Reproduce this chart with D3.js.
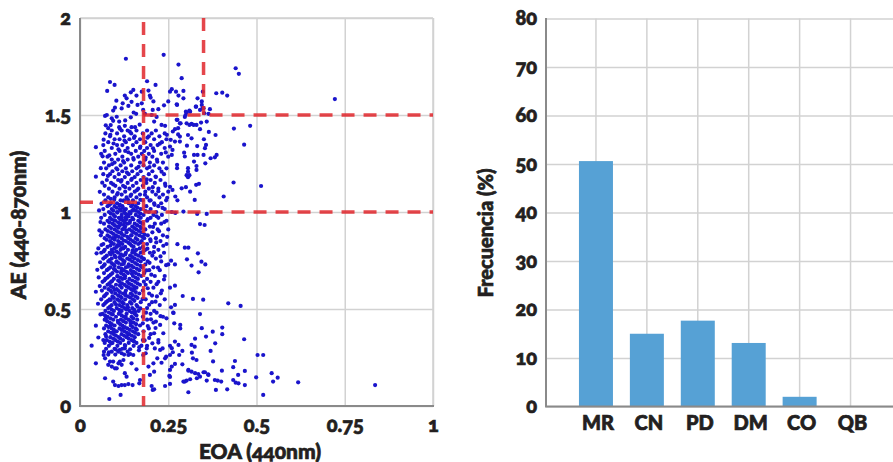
<!DOCTYPE html>
<html lang="es">
<head>
<meta charset="utf-8">
<script src="https://cdn.jsdelivr.net/npm/d3@7"></script>
<style>
  body { margin: 0; background: #fff; }
  svg { display: block; }
  text { font-family: Lato, "Open Sans", sans-serif; font-weight: 900; fill: #231f20; stroke: #231f20; stroke-width: 0.7px; font-variant-numeric: oldstyle-nums; font-feature-settings: "onum"; }
</style>
</head>
<body>
<svg width="893" height="462"></svg>
<script>
// left panel: AE vs EOA
const eoaTicks = [0, 0.25, 0.5, 0.75, 1];
const aeTicks = [0, 0.5, 1, 1.5, 2];

// sparse points, read one by one [EOA, AE]
const sparsePoints = [
  [.13,1.79],[.237,1.81],[.279,1.76],[.288,1.69],[.085,1.67],[.098,1.655],[.077,1.624],[.19,1.674],[.214,1.655],[.151,1.629],[.144,1.617],[.127,1.6],[.132,1.586],[.121,1.56],[.137,1.547],[.16,1.6],[.175,1.62],[.194,1.626],[.198,1.6],[.2,1.59],[.208,1.57],[.175,1.56],[.26,1.633],[.255,1.62],[.272,1.62],[.279,1.6],[.293,1.624],[.293,1.586],[.274,1.555],[.25,1.57],[.238,1.55],[.222,1.53],[.206,1.526],[.099,1.538],[.094,1.523],[.076,1.5],[.071,1.495],[.09,1.483],[.094,1.47],[.111,1.466],[.144,1.488],[.159,1.506],[.179,1.526],[.184,1.506],[.203,1.5],[.217,1.49],[.21,1.466],[.231,1.449],[.241,1.444],[.156,1.437],[.146,1.437],[.127,1.444],[.111,1.437],[.08,1.432],[.274,1.475],[.283,1.457],[.302,1.512],[.312,1.517],[.297,1.49],[.302,1.457],[.316,1.454],[.329,1.543],[.333,1.586],[.345,1.57],[.34,1.526],[.347,1.535],[.364,1.506],[.359,1.466],[.33,1.449],
  [.441,1.741],[.45,1.712],[.386,1.612],[.403,1.615],[.417,1.6],[.368,1.53],[.436,1.43],[.482,1.444],[.465,1.347],[.435,1.152],[.513,1.134],[.407,1.08],[.325,1.062],[.384,1.397],[.365,1.413],[.34,1.427],[.343,1.461],[.351,1.375],[.357,1.346],[.354,1.329],[.332,1.34],[.387,1.294],[.382,1.282],[.37,1.277],[.35,1.294],[.355,1.251],[.333,1.294],[.323,1.294],[.323,1.26],[.33,1.237],[.33,1.217],[.306,1.226],[.306,1.208],[.302,1.19],[.306,1.179],[.31,1.19],[.329,1.14],[.337,1.145],[.3,1.128],[.288,1.122],[.312,1.105],[.275,1.226],[.275,1.243],[.295,1.306],[.297,1.286],[.303,1.342],[.316,1.38],[.306,1.397],[.283,1.389],[.278,1.4],[.283,1.363],[.269,1.427],[.278,1.432],[.263,1.415],[.257,1.372],[.269,1.363],[.255,1.337],[.262,1.32],[.26,1.294],[.255,1.13],[.262,1.114],[.27,1.08],[.276,1.06],[.293,1.002],[.27,.995],[.26,1],[.332,.99],[.359,.99],[.299,1.5],[.3,1.517],[.31,1.523],[.276,1.475],[.285,1.457],[.31,1.449],[.322,1.449],[.275,1.552],[.328,1.543],[.348,1.62],[.345,1.552],[.35,1.535],[.352,1.509],
  [.34,.938],[.353,.933],[.276,.834],[.297,.816],[.307,.816],[.334,.787],[.303,.756],[.344,.744],[.355,.73],[.316,.724],[.336,.689],[.269,.73],[.258,.749],[.269,.62],[.255,.61],[.291,.567],[.32,.552],[.349,.548],[.42,.529],[.455,.516],[.269,.521],[.258,.509],[.265,.48],[.34,.474],[.267,.426],[.284,.418],[.284,.4],[.345,.401],[.376,.383],[.403,.404],[.403,.37],[.357,.358],[.326,.347],[.465,.344],[.383,.323],[.269,.332],[.279,.315],[.255,.31],[.26,.298],[.316,.315],[.325,.306],[.37,.284],[.317,.275],[.29,.284],[.281,.263],[.263,.277],[.255,.263],[.32,.246],[.33,.237],[.377,.23],[.439,.232],[.434,.2],[.467,.181],[.402,.182],[.29,.215],[.269,.217],[.26,.203],[.255,.186],[.448,.16],[.307,.186],[.316,.177],[.326,.169],[.335,.165],[.35,.174],[.363,.163],[.331,.143],[.312,.138],[.297,.126],[.359,.131],[.382,.134],[.39,.131],[.4,.126],[.434,.134],[.441,.12],[.449,.117],[.467,.108],[.385,.083],[.417,.086],[.307,.071],[.519,.057],[.499,.148],[.543,.169],[.56,.146],[.547,.126],[.618,.122],[.503,.263],[.519,.263],[.255,.15],[.255,.114],[.836,.108],[.722,1.582],
  [.033,.311],[.045,.414],[.045,.22],[.071,.143],[.083,.036],[.115,.057],[.066,.34],[.071,.246],[.094,.126],[.099,.108],[.109,.103],[.118,.108],[.127,.108],[.137,.113],[.149,.108],[.127,.169],[.132,.151],[.16,.189],[.146,.22],[.151,.263],[.137,.263],[.123,.237],[.118,.212],[.109,.22],[.099,.194],[.09,.203],[.08,.212],[.085,.229],[.094,.229],[.104,.194],[.113,.229],[.118,.272],[.113,.289],[.127,.297],[.142,.292],[.17,.134],[.168,.117],[.179,.263],[.189,.297],[.186,.272],[.194,.203],[.208,.22],[.21,.177],[.198,.16],[.203,.103],[.21,.086],[.206,.083],[.241,.103],[.253,.155],[.231,.223],[.219,.246],[.241,.246],[.244,.254],[.212,.297],[.227,.289],[.234,.297],[.222,.34],[.222,.327],[.236,.375],[.21,.375],[.227,.418],[.215,.435],[.245,.452],[.264,.481],[.217,.481],[.307,.182],[.34,.151],[.302,.131],[.293,.126],[.354,.174],[.364,.16],
  [.045,1.334],[.045,1.182],[.045,.589],[.047,.787],[.059,.88],[.061,.83],
  // edges and gaps of the cloud
  [.052,.353],[.058,.472],[.051,.527],[.056,.618],[.053,.663],[.049,.702],[.057,.741],[.052,.812],[.055,.905],[.058,.948],[.054,1.008],[.061,1.043],[.056,1.104],[.063,1.151],[.059,1.226],[.064,1.287],[.067,1.373],[.073,1.447],
  [.167,.287],[.174,.311],[.183,.338],[.196,.351],[.205,.323],[.214,.402],[.192,.412],[.178,.426],[.201,.447],[.228,.463],[.187,.481],[.171,.503],[.196,.522],[.214,.538],[.177,.551],[.204,.569],[.229,.581],[.192,.607],[.217,.628],[.181,.641],[.238,.652],[.202,.677],[.188,.699],[.221,.713],[.244,.726],[.197,.738],[.181,.757],[.228,.771],[.209,.793],[.191,.811],[.236,.826],[.216,.843],[.199,.859],[.247,.872],[.183,.884],[.224,.901],[.207,.923],[.239,.948],[.192,.963],[.217,.978],[.186,1.004],[.234,1.021],[.211,1.037],[.197,1.059],[.247,1.073],[.184,1.089],[.222,1.107],[.206,1.128],[.241,1.146],[.189,1.168],[.214,1.183],[.231,1.208],[.197,1.232],[.219,1.259],[.186,1.281],[.243,1.307],[.207,1.328],[.226,1.352],[.191,1.383],[.246,1.398],
  [.112,1.034],[.127,1.011],[.106,.997],[.133,.983],[.118,.971],[.097,.957],[.141,.944],[.124,.934],[.109,.919],[.131,.906],[.116,.893],[.146,.879],[.099,.868],[.124,.853],[.137,.841],[.107,.829],[.119,.814],[.149,.802],[.093,.793],[.128,.781],[.112,.768],[.141,.754],[.103,.742],[.124,.733],[.136,.718],[.096,.706],[.117,.696],[.147,.682],[.106,.668],[.127,.659],[.091,.644],[.139,.631],[.113,.621],[.154,.606],[.098,.598],[.128,.583],[.108,.571],[.142,.559],[.087,.547],[.121,.533],[.102,.523],[.136,.508],[.111,.496],[.156,.486],[.093,.472],[.129,.461],[.073,.451],[.107,.439],[.143,.428],[.086,.413],[.123,.403],[.161,.393],[.096,.381],[.137,.368],[.074,.358],[.114,.347],[.152,.336],[.089,.323],[.127,.314],[.168,.303],[.101,.292],[.082,.277],[.142,.268],[.067,.263],
  [.122,1.058],[.087,1.068],[.143,1.083],[.107,1.098],[.161,1.112],[.128,1.128],[.094,1.142],[.116,1.157],[.147,1.171],[.079,1.186],[.133,1.203],[.106,1.219],[.166,1.233],[.091,1.247],[.122,1.263],[.151,1.278],[.083,1.292],[.137,1.308],[.109,1.323],[.171,1.337],[.095,1.353],[.126,1.368],[.153,1.382],[.086,1.398],[.141,1.414],[.113,1.429],[.169,1.45],[.128,1.472],[.104,1.491],[.152,1.513],[.118,1.534],[.163,1.552],[.103,1.574],[.146,1.568],[.087,1.448]
];

// the dense cloud, read row by row: [AE, EOA values on that row]
const denseRows = [
  [1.42,[.09,.118,.135,.16,.19,.215]],[1.405,[.072,.105,.145,.178,.203,.24]],[1.39,[.085,.125,.155,.195,.225]],[1.375,[.098,.112,.14,.17,.21,.245]],[1.36,[.08,.13,.16,.185,.232]],[1.345,[.066,.105,.12,.15,.2,.22]],[1.33,[.09,.135,.17,.19,.24]],[1.315,[.07,.112,.128,.158,.182,.21]],[1.3,[.06,.1,.145,.175,.195,.23]],
  [1.285,[.078,.12,.165,.205,.25]],[1.27,[.09,.108,.135,.152,.185,.218]],[1.255,[.068,.098,.125,.17,.198,.235]],[1.24,[.082,.115,.145,.18,.21]],[1.225,[.074,.103,.13,.16,.19,.225,.245]],[1.21,[.092,.12,.148,.172,.205]],[1.195,[.066,.085,.11,.138,.163,.195,.238]],[1.18,[.098,.127,.155,.18,.215]],[1.165,[.076,.108,.118,.145,.172,.2,.228]],[1.15,[.088,.135,.16,.188,.212]],[1.135,[.07,.1,.122,.15,.178,.242]],[1.12,[.082,.112,.14,.165,.195,.222]],[1.105,[.092,.128,.155,.185,.205,.25]],[1.09,[.068,.105,.118,.145,.17,.215,.235]],[1.075,[.08,.098,.132,.16,.19,.225]],
  [1.06,[.072,.115,.125,.15,.178,.2,.244]],[1.045,[.088,.105,.138,.165,.21,.23]],[1.03,[.078,.098,.12,.145,.158,.188,.222]],[1.015,[.066,.09,.112,.13,.152,.172,.2,.24]],[1,[.082,.105,.125,.14,.165,.195,.216]],[.985,[.07,.095,.118,.135,.158,.18,.208,.232]],[.97,[.06,.085,.11,.128,.148,.172,.2,.222]],[.955,[.078,.1,.122,.142,.165,.19,.245]],[.94,[.068,.092,.115,.135,.155,.178,.212,.23]],[.925,[.082,.105,.128,.148,.17,.198]],[.91,[.072,.098,.12,.14,.16,.185,.22,.25]],[.895,[.062,.088,.11,.132,.152,.175,.205]],[.88,[.078,.102,.125,.145,.168,.192,.235]],[.865,[.07,.092,.118,.138,.158,.182,.215]],[.85,[.085,.108,.13,.15,.175,.2,.228]],
  [.835,[.066,.096,.12,.142,.165,.19,.245]],[.82,[.078,.104,.128,.152,.178,.21]],[.805,[.07,.09,.115,.136,.16,.185,.222]],[.79,[.06,.084,.108,.13,.148,.172,.198,.238]],[.775,[.076,.098,.122,.142,.165,.205]],[.76,[.066,.09,.114,.134,.155,.18,.215]],[.745,[.08,.104,.126,.148,.172,.192,.23]],[.73,[.07,.094,.118,.138,.162,.185,.25]],[.715,[.062,.086,.11,.13,.152,.176,.208]],[.7,[.076,.1,.124,.144,.168,.196,.226]],[.685,[.068,.092,.116,.136,.158,.182]],[.67,[.082,.106,.128,.15,.174,.212,.24]],[.655,[.072,.096,.12,.14,.164,.19]],[.64,[.064,.088,.112,.134,.156,.2,.222]],
  [.625,[.078,.102,.126,.146,.17,.186]],[.61,[.07,.094,.118,.138,.16,.208]],[.595,[.062,.086,.108,.13,.15,.178,.232]],[.58,[.076,.1,.122,.144,.168,.196]],[.565,[.068,.092,.114,.136,.158,.218]],[.55,[.06,.084,.106,.128,.15,.186,.24]],[.535,[.074,.098,.12,.142,.172,.204]],[.52,[.066,.09,.112,.134,.16,.226]],[.505,[.08,.104,.126,.148,.19]],[.49,[.072,.096,.118,.14,.166,.21]],[.475,[.064,.088,.11,.132,.155,.2]],[.46,[.078,.102,.124,.146,.178,.235]],[.445,[.07,.094,.116,.138,.162,.19]],
  [.43,[.084,.108,.13,.152,.208]],[.415,[.074,.098,.12,.144,.17]],[.4,[.068,.09,.112,.134,.158,.195]],[.385,[.08,.104,.126,.15,.18]],[.37,[.072,.096,.118,.14,.165,.2]],[.355,[.086,.11,.132,.155]],[.34,[.076,.1,.122,.146,.178]],[.325,[.07,.092,.114,.138,.16]],[.31,[.082,.106,.128,.152,.19]],[.295,[.074,.098,.12]],[.28,[.068,.09,.108,.135]],[.265,[.08,.1,.125]]
];

// second pass over the thickest part of the cloud
const fillRows = [
  [1.063,[.097,.136,.171]],[1.037,[.084,.113,.149]],[1.022,[.103,.121,.163]],[1.007,[.094,.116,.148,.158]],[.992,[.087,.128,.143,.171]],[.977,[.099,.137,.166]],[.962,[.09,.115,.131,.151]],[.947,[.083,.108,.127,.171]],[.932,[.098,.113,.162]],[.917,[.088,.125,.154,.173]],[.902,[.079,.104,.147,.167]],[.887,[.094,.118,.159]],[.872,[.083,.109,.134,.176]],[.857,[.075,.098,.143,.163]],[.842,[.089,.114,.156,.171]],[.827,[.086,.111,.146]],[.812,[.097,.123,.169]],[.797,[.067,.103,.154,.179]],[.782,[.087,.116,.158]],[.767,[.071,.101,.149,.174]],[.752,[.084,.121,.164]],[.737,[.089,.109,.156]],[.722,[.067,.098,.146,.171]],[.707,[.081,.118,.161]],[.692,[.105,.131,.152]],[.677,[.087,.123,.166]],[.662,[.078,.114,.157]],[.647,[.069,.108,.148]],
  [.632,[.083,.119,.163]],[.617,[.088,.132,.153]],[.602,[.081,.104,.145]],[.587,[.09,.113,.158]],[.572,[.072,.128,.149]],[.557,[.096,.118,.163]],[.542,[.079,.111,.154]],[.527,[.07,.124,.146]],[.512,[.085,.119,.163]],[.497,[.09,.131,.153]],[.482,[.082,.113,.147]],[.467,[.071,.118,.16]],[.452,[.086,.13,.151]],[.437,[.077,.123,.144]],[.422,[.09,.114,.159]],[.407,[.081,.127,.149]],[.392,[.096,.118,.141]],[.377,[.088,.133,.156]],[.362,[.102,.125,.147]],[.347,[.094,.138]],[.332,[.084,.107,.153]]
];

const cloudRows = denseRows.concat(fillRows);
const cloudEoa = cloudRows.flatMap(r => r[1]);
const cloudAe = cloudRows.flatMap(r => r[1].map(() => r[0]));
const eoaValues = sparsePoints.map(d => d[0]).concat(cloudEoa);
const aeValues = sparsePoints.map(d => d[1]).concat(cloudAe);

// thresholds drawn as red dashes
const eoaCuts = [{ x: 0.18, from: 0, to: 1.98 }, { x: 0.35, from: 1.5, to: 2 }];
const aeCuts = [{ y: 1.5, from: 0.18, to: 1 }, { y: 1, from: 0.18, to: 1 }, { y: 1.05, from: 0, to: 0.18 }];

// right panel: frequency bars
const causes = ["MR", "CN", "PD", "DM", "CO", "QB"];
const frequency = [50.6, 15, 17.7, 13.1, 2, 0];
const freqTicks = [0, 10, 20, 30, 40, 50, 60, 70, 80];

const svg = d3.select("svg");
const gridColor = "#d2d2d2";
const axisColor = "#8a8a8a";

function styleAxis(g) {
  g.select(".domain").remove();
  g.selectAll(".tick line").attr("stroke", gridColor).attr("stroke-width", 1.5);
  g.selectAll(".tick text").style("font-size", "20px");
}

const x = d3.scaleLinear().domain([0, 1]).range([80, 433]);
const y = d3.scaleLinear().domain([0, 2]).range([406, 18]);

svg.append("g")
  .attr("transform", "translate(0,406)")
  .call(d3.axisBottom(x).tickValues(eoaTicks).tickSize(-388).tickPadding(12).tickFormat(d => d))
  .call(styleAxis);
svg.append("g")
  .attr("transform", "translate(80,0)")
  .call(d3.axisLeft(y).tickValues(aeTicks).tickSize(-353).tickPadding(9).tickFormat(d => d))
  .call(styleAxis);

svg.append("line").attr("x1", 80).attr("x2", 433).attr("y1", 18).attr("y2", 18).attr("stroke", gridColor).attr("stroke-width", 1.5);
svg.append("line").attr("x1", 433).attr("x2", 433).attr("y1", 18).attr("y2", 406).attr("stroke", gridColor).attr("stroke-width", 1.5);
svg.append("line").attr("x1", 80).attr("x2", 80).attr("y1", 18).attr("y2", 407).attr("stroke", axisColor).attr("stroke-width", 2);
svg.append("line").attr("x1", 79).attr("x2", 434).attr("y1", 406).attr("y2", 406).attr("stroke", axisColor).attr("stroke-width", 2);

svg.append("g").selectAll("circle")
  .data(d3.range(eoaValues.length))
  .join("circle")
  .attr("cx", i => x(eoaValues[i]))
  .attr("cy", i => y(aeValues[i]))
  .attr("r", 2.1)
  .attr("fill", "#1a14cc");

const dash = svg.append("g")
  .attr("stroke", "#e0262c")
  .attr("stroke-opacity", 0.85)
  .attr("stroke-width", 3.5)
  .attr("stroke-dasharray", "13 9");
dash.selectAll(".v").data(eoaCuts).join("line")
  .attr("class", "v")
  .attr("x1", d => x(d.x)).attr("x2", d => x(d.x))
  .attr("y1", d => y(d.to)).attr("y2", d => y(d.from));
dash.selectAll(".h").data(aeCuts).join("line")
  .attr("class", "h")
  .attr("x1", d => x(d.from)).attr("x2", d => x(d.to))
  .attr("y1", d => y(d.y)).attr("y2", d => y(d.y));

svg.append("text").attr("x", 260).attr("y", 459).attr("text-anchor", "middle").style("font-size", "21px").text("EOA (440nm)");
svg.append("text").attr("transform", "translate(26,225) rotate(-90)").attr("text-anchor", "middle").style("font-size", "21px").text("AE (440-870nm)");

const xBar = d3.scaleBand().domain(causes).range([570.5, 876]);
const yBar = d3.scaleLinear().domain([0, 80]).range([406.5, 18.5]);

svg.append("g")
  .attr("transform", "translate(0,406.5)")
  .call(d3.axisBottom(xBar).tickSize(-388).tickPadding(9))
  .call(styleAxis)
  .call(g => g.selectAll(".tick text").attr("dx", 2));
svg.append("g")
  .attr("transform", "translate(546,0)")
  .call(d3.axisLeft(yBar).tickValues(freqTicks).tickSize(-347).tickPadding(9))
  .call(styleAxis);

svg.append("line").attr("x1", 546).attr("x2", 546).attr("y1", 18).attr("y2", 407).attr("stroke", axisColor).attr("stroke-width", 2);

svg.append("g").selectAll("rect")
  .data(causes)
  .join("rect")
  .attr("x", d => xBar(d) + xBar.bandwidth() / 2 - 17)
  .attr("width", 34)
  .attr("y", (d, i) => yBar(frequency[i]))
  .attr("height", (d, i) => yBar(0) - yBar(frequency[i]))
  .attr("fill", "#56a1d5");

svg.append("line").attr("x1", 545).attr("x2", 893).attr("y1", 406.5).attr("y2", 406.5).attr("stroke", axisColor).attr("stroke-width", 2);
svg.append("text").attr("transform", "translate(493,233) rotate(-90)").attr("text-anchor", "middle").style("font-size", "20px").text("Frecuencia (%)");
</script>
</body>
</html>
